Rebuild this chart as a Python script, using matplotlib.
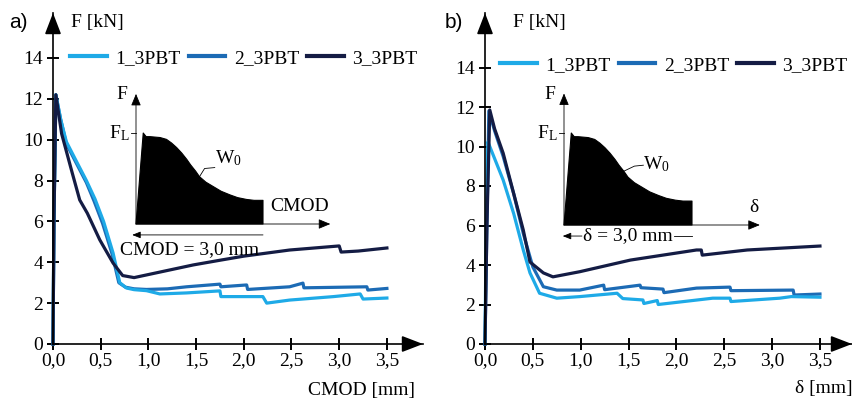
import matplotlib
matplotlib.use('Agg')
import matplotlib.pyplot as plt
from matplotlib.lines import Line2D

W, H = 853, 401

plt.rcParams['font.family'] = ['Liberation Serif', 'DejaVu Serif']
plt.rcParams['mathtext.fontset'] = 'custom'
plt.rcParams['mathtext.rm'] = 'Liberation Serif'
plt.rcParams['mathtext.it'] = 'Liberation Serif'

# specimens
labels = ['1_3PBT', '2_3PBT', '3_3PBT']
colors = ['#1eaae7', '#1c6bb5', '#141c44']

x_ticks = [0.0, 0.5, 1.0, 1.5, 2.0, 2.5, 3.0, 3.5]
x_tick_labels = ['0,0', '0,5', '1,0', '1,5', '2,0', '2,5', '3,0', '3,5']
y_ticks = [0, 2, 4, 6, 8, 10, 12, 14]

# a) F - CMOD
cmod_1_x = [0, 0.01, 0.03, 0.08, 0.14, 0.25, 0.35, 0.44, 0.53, 0.63, 0.70, 0.77, 0.85, 0.98, 1.12,
            1.40, 1.75, 1.76, 2.20, 2.24, 2.48, 2.94, 3.22, 3.25, 3.50]
cmod_1_y = [0, 6.0, 12.2, 11.0, 9.9, 8.9, 8.0, 7.1, 6.0, 4.45, 3.0, 2.74, 2.66, 2.61, 2.45,
            2.5, 2.6, 2.32, 2.32, 2.0, 2.15, 2.32, 2.45, 2.2, 2.25]
cmod_2_x = [0, 0.01, 0.03, 0.08, 0.14, 0.25, 0.35, 0.43, 0.52, 0.62, 0.69, 0.76, 0.85, 0.98, 1.20,
            1.40, 1.75, 1.76, 2.03, 2.04, 2.48, 2.62, 2.63, 3.29, 3.30, 3.50]
cmod_2_y = [0, 6.0, 12.2, 11.0, 9.8, 8.8, 7.9, 7.0, 5.9, 4.4, 3.0, 2.78, 2.7, 2.67, 2.7,
            2.8, 2.93, 2.8, 2.89, 2.67, 2.8, 2.98, 2.75, 2.8, 2.64, 2.72]
cmod_3_x = [0, 0.01, 0.03, 0.09, 0.20, 0.28, 0.36, 0.49, 0.63, 0.73, 0.85, 0.98, 1.20, 1.47, 1.75,
            2.00, 2.48, 3.00, 3.02, 3.20, 3.50]
cmod_3_y = [0, 6.0, 12.2, 10.3, 8.4, 7.05, 6.4, 5.1, 3.96, 3.35, 3.25, 3.38, 3.6, 3.87, 4.1,
            4.3, 4.6, 4.8, 4.5, 4.55, 4.7]

# b) F - delta
d_1_x = [0, 0.01, 0.03, 0.05, 0.19, 0.30, 0.40, 0.47, 0.57, 0.75, 0.99, 1.38, 1.44, 1.65, 1.66,
         1.80, 1.81, 2.38, 2.56, 2.57, 3.08, 3.20, 3.50]
d_1_y = [0, 5.0, 10.24, 10.0, 8.3, 6.6, 4.76, 3.6, 2.57, 2.32, 2.4, 2.57, 2.3, 2.23, 2.05,
         2.2, 2.0, 2.32, 2.32, 2.15, 2.32, 2.4, 2.37]
d_2_x = [0, 0.02, 0.04, 0.10, 0.19, 0.30, 0.40, 0.50, 0.61, 0.75, 0.99, 1.24, 1.25, 1.62, 1.63,
         1.86, 1.87, 2.21, 2.56, 2.57, 3.22, 3.23, 3.50]
d_2_y = [0, 6.0, 11.8, 10.8, 9.5, 7.6, 5.6, 3.9, 2.9, 2.73, 2.73, 2.98, 2.75, 2.98, 2.85,
         2.78, 2.6, 2.83, 2.88, 2.7, 2.73, 2.48, 2.53]
d_3_x = [0, 0.02, 0.05, 0.10, 0.19, 0.29, 0.40, 0.47, 0.61, 0.71, 0.99, 1.52, 2.21, 2.26, 2.27,
         2.74, 3.50]
d_3_y = [0, 6.0, 11.85, 10.9, 9.66, 7.8, 5.77, 4.15, 3.6, 3.4, 3.66, 4.25, 4.76, 4.76, 4.5,
         4.76, 4.96]

# schematic of the work W0 (normalised)
inset_x = [0, 0.057, 0.08, 0.11, 0.19, 0.24, 0.28, 0.32, 0.36, 0.40, 0.43, 0.47, 0.50, 0.55,
           0.61, 0.67, 0.74, 0.80, 0.87, 0.93, 1.0, 1.0]
inset_y = [0, 1.0, 0.96, 0.96, 0.95, 0.93, 0.89, 0.84, 0.78, 0.71, 0.65, 0.58, 0.52, 0.46,
           0.41, 0.36, 0.32, 0.29, 0.27, 0.26, 0.26, 0]


def fx(px):
    return px / W


def fy(py):
    return 1 - py / H


def arrow(ax, xy, xytext, coords='axes fraction', style='-|>,head_length=0.65,head_width=0.25',
          ms=20, lw=1.2):
    ax.annotate('', xy=xy, xycoords=coords, xytext=xytext, textcoords=coords,
                arrowprops=dict(arrowstyle=style, mutation_scale=ms, color='k', lw=lw,
                                shrinkA=0, shrinkB=0))


def main_axes(fig, x0, x1, y0, ytop, px_per_x, px_per_y):
    ax = fig.add_axes([fx(x0), fy(y0), (x1 - x0) / W, (y0 - ytop) / H])
    ax.set_xlim(0, (x1 - x0) / px_per_x)
    ax.set_ylim(0, (y0 - ytop) / px_per_y)
    ax.patch.set_visible(False)
    for s in ['top', 'right']:
        ax.spines[s].set_visible(False)
    for s in ['left', 'bottom']:
        ax.spines[s].set_linewidth(1.2)
    ax.set_xticks(x_ticks)
    ax.set_xticklabels(x_tick_labels)
    ax.set_yticks(y_ticks)
    ax.tick_params(direction='inout', length=8, width=1.4, labelsize=14)
    ax.tick_params(axis='y', pad=3)
    ax.tick_params(axis='x', pad=2)
    arrow(ax, (1, 0), (0.95, 0))
    arrow(ax, (0, 1), (0, 0.95))
    return ax


def inset(fig, ox, oy, ux, uy, xlabel, dim_text, w0_leader, w0_pos, delta=False):
    x0, x1 = -0.3, 1.6
    y0, y1 = -0.4, 1.5
    ax = fig.add_axes([fx(ox + x0 * ux), fy(oy - y0 * uy), (x1 - x0) * ux / W, (y1 - y0) * uy / H])
    ax.set_xlim(x0, x1)
    ax.set_ylim(y0, y1)
    ax.axis('off')
    ax.fill(inset_x, inset_y, color='k', lw=0.8, joinstyle='round')
    top = 1.43
    right = 1.53
    arrow(ax, (0, top), (0, 0), coords='data', style='-|>,head_length=0.6,head_width=0.25',
          ms=12, lw=0.6)
    arrow(ax, (right, 0), (0, 0), coords='data', style='-|>,head_length=0.6,head_width=0.25',
          ms=12, lw=0.6)
    ax.plot([-0.04, 0], [1, 1], color='k', lw=0.6)
    ax.text(-0.11, 1.42, 'F', fontsize=14, ha='center', va='center')
    ax.text(-0.05, 1.0, r'F$_\mathrm{L}$', fontsize=14, ha='right', va='center')
    ax.plot(w0_leader[0], w0_leader[1], color='k', lw=0.6)
    ax.text(w0_pos[0], w0_pos[1], r'W$_0$', fontsize=14, ha='left', va='center')
    ax.text(xlabel[1], 0.19, xlabel[0], fontsize=14, ha='center', va='center')
    dy = -0.12
    if delta:
        arrow(ax, (-0.01, dy), (0.14, dy), coords='data', style='-|>,head_length=0.5,head_width=0.2',
              ms=10, lw=0.6)
        ax.plot([0.86, 1.0], [dy, dy], color='k', lw=0.6)
        ax.text(0.5, dy, dim_text, fontsize=14, ha='center', va='center')
    else:
        arrow(ax, (-0.03, dy), (1.0, dy), coords='data', style='-|>,head_length=0.5,head_width=0.2',
              ms=10, lw=0.6)
        ax.text(0.42, -0.285, dim_text, fontsize=14, ha='center', va='center')
    return ax


fig = plt.figure(figsize=(W / 100, H / 100), dpi=100)

ax1 = main_axes(fig, 53, 423, 344, 13, 95.4, 20.43)
ax2 = main_axes(fig, 485, 852, 344, 13, 95.7, 19.75)

series_a = [(cmod_1_x, cmod_1_y), (cmod_2_x, cmod_2_y), (cmod_3_x, cmod_3_y)]
series_b = [(d_1_x, d_1_y), (d_2_x, d_2_y), (d_3_x, d_3_y)]
for ax, series in [(ax1, series_a), (ax2, series_b)]:
    for i in [1, 0, 2]:
        ax.plot(series[i][0], series[i][1], color=colors[i], lw=2.3, clip_on=False,
                solid_joinstyle='round')

handles = [Line2D([], [], color=c, lw=3.0) for c in colors]
for ax, (lx, ly) in [(ax1, (70, 58)), (ax2, (500, 65))]:
    ax.legend(handles, labels, loc='center left', bbox_to_anchor=(fx(lx), fy(ly)),
              bbox_transform=fig.transFigure, ncol=3, frameon=False, borderpad=0,
              borderaxespad=0, handlelength=1.9, handletextpad=0.42, columnspacing=0.42,
              fontsize=14)

inset(fig, 136, 224, 127, 91, ('CMOD', 1.29), 'CMOD = 3,0 mm',
      ([0.50, 0.54, 0.62], [0.52, 0.61, 0.62]), (0.62, 0.725))
inset(fig, 564, 225, 128, 92, ('δ', 1.48), 'δ = 3,0 mm',
      ([0.46, 0.55, 0.62], [0.58, 0.64, 0.65]), (0.62, 0.66), delta=True)

fig.text(fx(18), fy(22), 'a)', fontsize=15, family='Liberation Sans', ha='center', va='center')
fig.text(fx(454), fy(22), 'b)', fontsize=15, family='Liberation Sans', ha='center', va='center')
fig.text(fx(97), fy(22), 'F [kN]', fontsize=14, ha='center', va='center')
fig.text(fx(539), fy(22), 'F [kN]', fontsize=14, ha='center', va='center')
fig.text(fx(362), fy(390), 'CMOD [mm]', fontsize=14, ha='center', va='center')
fig.text(fx(824), fy(388), 'δ [mm]', fontsize=14, ha='center', va='center')

fig.savefig('out.png', dpi=100)
